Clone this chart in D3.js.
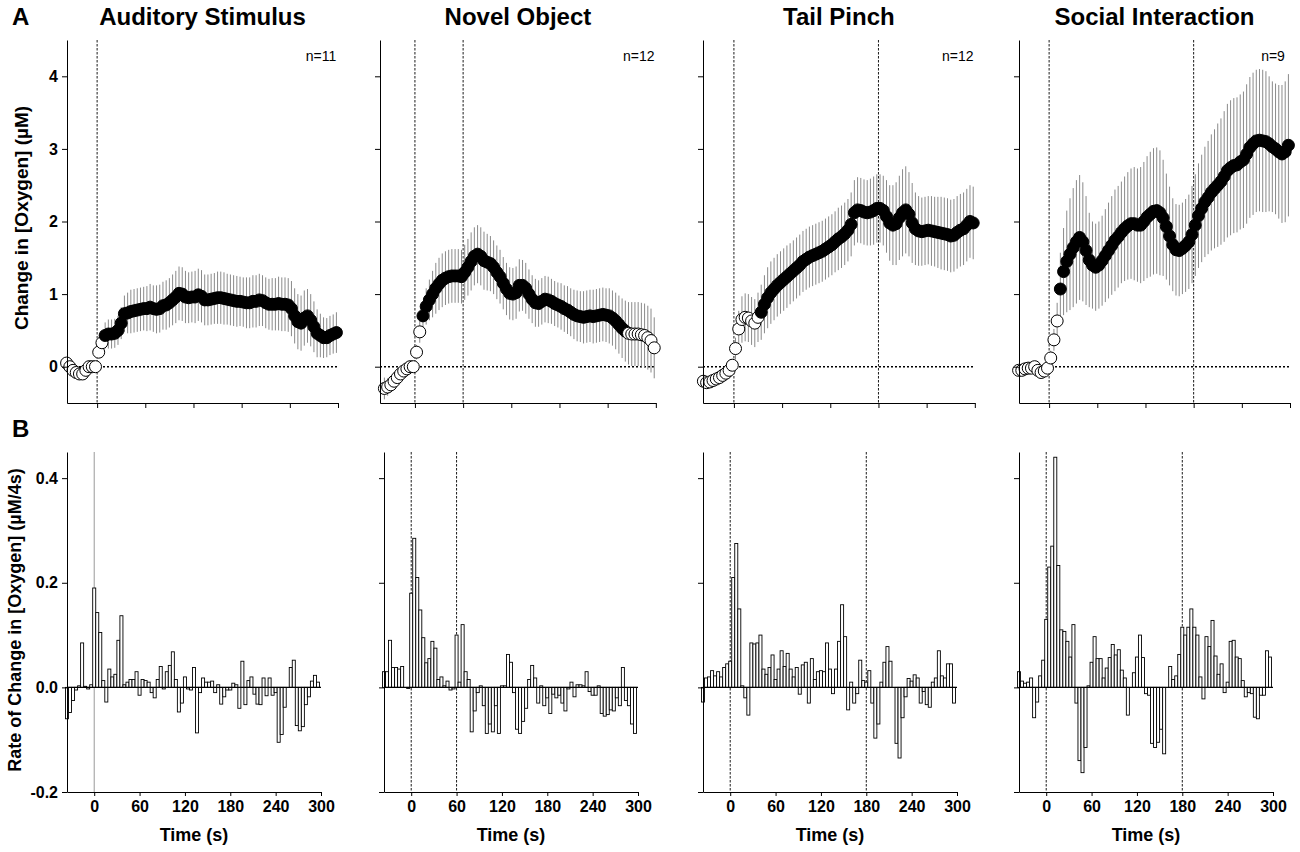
<!DOCTYPE html>
<html><head><meta charset="utf-8">
<script src="https://cdn.jsdelivr.net/npm/d3@7"></script>
<style>body{margin:0;background:#fff}svg{display:block}text{font-family:"Liberation Sans",Arial,Helvetica,sans-serif}</style>
</head><body><svg id="c" width="1300" height="852"></svg>
<script>
// ---------- DATA ----------
const panelTitles = ["Auditory Stimulus","Novel Object","Tail Pinch","Social Interaction"];
const nLabels = ["n=11","n=12","n=12","n=9"];
const markerTimes = [[0],[0,60],[0,180],[0,180]];
// time window (s) in which the mean points are filled (significant)
const sigWindows = [[10,298],[10,262],[34,298],[14,298]];
const sampleStart = -38, sampleStep = 4;   // mean samples every 4 s
const binStart = -36, binStep = 4;         // rate bins every 4 s
const yTicksTop = [0,1,2,3,4];
const yTicksBot = [-0.2,0,0.2,0.4];
const xTicks = [0,60,120,180,240,300];

const audMean = [0.05,0.0,-0.05,-0.08,-0.1,-0.1,-0.05,0.0,0.0,0.0,
 0.2,0.33,0.43,0.45,0.45,0.46,0.5,0.6,0.73,0.74,
 0.76,0.77,0.78,0.79,0.8,0.8,0.82,0.8,0.79,0.8,
 0.84,0.85,0.88,0.92,0.96,1.01,1.0,0.96,0.95,0.96,
 0.96,0.99,0.97,0.92,0.92,0.93,0.94,0.95,0.95,0.94,
 0.93,0.92,0.91,0.9,0.9,0.89,0.88,0.88,0.9,0.9,
 0.92,0.91,0.88,0.86,0.86,0.86,0.87,0.86,0.86,0.85,
 0.8,0.7,0.62,0.6,0.67,0.7,0.64,0.55,0.46,0.43,
 0.4,0.4,0.43,0.45,0.47];
const audErr = [0.04,0.04,0.04,0.04,0.04,0.04,0.04,0.04,0.04,0.05,
 0.08,0.1,0.18,0.2,0.2,0.2,0.2,0.22,0.25,0.28,
 0.3,0.3,0.3,0.3,0.3,0.31,0.32,0.32,0.33,0.33,
 0.33,0.34,0.34,0.35,0.36,0.37,0.37,0.36,0.35,0.35,
 0.36,0.36,0.36,0.35,0.35,0.35,0.35,0.36,0.36,0.36,
 0.35,0.35,0.35,0.35,0.34,0.34,0.35,0.35,0.36,0.36,
 0.36,0.35,0.35,0.35,0.36,0.36,0.37,0.37,0.37,0.37,
 0.38,0.38,0.38,0.38,0.38,0.37,0.36,0.35,0.33,0.3,
 0.28,0.27,0.27,0.27,0.28];

const novMean = [-0.3,-0.28,-0.25,-0.2,-0.15,-0.1,-0.06,-0.03,0.0,0.0,
 0.2,0.48,0.7,0.83,0.92,1.0,1.08,1.14,1.19,1.22,
 1.24,1.25,1.25,1.25,1.24,1.3,1.37,1.45,1.52,1.55,
 1.52,1.46,1.44,1.42,1.37,1.3,1.24,1.15,1.07,1.01,
 1.0,1.02,1.12,1.12,1.08,1.0,0.93,0.88,0.87,0.9,
 0.93,0.92,0.9,0.87,0.85,0.83,0.8,0.78,0.75,0.72,
 0.7,0.69,0.68,0.69,0.7,0.69,0.7,0.71,0.72,0.71,
 0.7,0.67,0.63,0.58,0.53,0.49,0.46,0.45,0.45,0.45,
 0.44,0.43,0.4,0.36,0.26];
const novErr = [0.15,0.12,0.1,0.08,0.06,0.05,0.04,0.03,0.03,0.03,
 0.1,0.15,0.2,0.25,0.28,0.32,0.35,0.36,0.37,0.37,
 0.37,0.37,0.37,0.37,0.37,0.38,0.39,0.4,0.4,0.4,
 0.4,0.4,0.39,0.38,0.37,0.37,0.37,0.36,0.36,0.36,
 0.36,0.36,0.36,0.35,0.35,0.34,0.33,0.33,0.32,0.32,
 0.32,0.32,0.31,0.31,0.31,0.32,0.32,0.33,0.33,0.34,
 0.35,0.35,0.36,0.36,0.36,0.37,0.37,0.37,0.37,0.37,
 0.38,0.38,0.39,0.4,0.41,0.42,0.43,0.44,0.44,0.44,
 0.44,0.44,0.44,0.44,0.42];

const tailMean = [-0.2,-0.22,-0.21,-0.19,-0.17,-0.15,-0.12,-0.09,-0.05,0.02,
 0.25,0.52,0.65,0.68,0.67,0.63,0.6,0.68,0.75,0.86,
 0.95,1.02,1.07,1.12,1.16,1.2,1.24,1.28,1.32,1.36,
 1.4,1.45,1.48,1.51,1.53,1.55,1.57,1.59,1.62,1.65,
 1.68,1.72,1.76,1.79,1.83,1.88,1.96,2.12,2.16,2.15,
 2.13,2.12,2.13,2.15,2.18,2.18,2.15,2.07,1.98,1.95,
 1.97,2.05,2.12,2.16,2.1,1.98,1.9,1.87,1.86,1.87,
 1.88,1.87,1.86,1.85,1.84,1.83,1.82,1.8,1.81,1.85,
 1.88,1.9,1.95,2.0,1.98];
const tailErr = [0.04,0.04,0.04,0.04,0.04,0.04,0.04,0.04,0.05,0.08,
 0.15,0.25,0.32,0.33,0.33,0.33,0.33,0.34,0.38,0.4,
 0.42,0.43,0.43,0.43,0.43,0.43,0.43,0.42,0.42,0.42,
 0.42,0.42,0.42,0.42,0.42,0.42,0.42,0.42,0.42,0.42,
 0.42,0.42,0.43,0.43,0.43,0.43,0.44,0.45,0.45,0.45,
 0.45,0.45,0.46,0.47,0.47,0.47,0.48,0.5,0.52,0.55,
 0.57,0.58,0.6,0.6,0.58,0.55,0.5,0.48,0.47,0.47,
 0.47,0.48,0.48,0.49,0.5,0.5,0.5,0.5,0.5,0.5,
 0.5,0.5,0.5,0.5,0.5];

const socMean = [-0.05,-0.05,-0.03,-0.02,-0.02,0.0,-0.05,-0.08,-0.06,-0.02,
 0.12,0.37,0.63,1.07,1.31,1.45,1.55,1.64,1.72,1.78,
 1.72,1.6,1.47,1.4,1.37,1.4,1.46,1.53,1.6,1.67,
 1.74,1.79,1.85,1.9,1.94,1.97,1.97,1.95,1.95,2.0,
 2.06,2.1,2.14,2.15,2.12,2.05,1.93,1.8,1.68,1.61,
 1.6,1.63,1.67,1.72,1.82,1.95,2.08,2.18,2.27,2.33,
 2.4,2.45,2.5,2.55,2.62,2.7,2.74,2.77,2.78,2.82,
 2.85,2.93,3.02,3.07,3.11,3.12,3.11,3.1,3.07,3.03,
 3.0,2.96,2.93,2.96,3.05];
const socErr = [0.04,0.04,0.04,0.04,0.04,0.04,0.04,0.04,0.04,0.05,
 0.1,0.15,0.25,0.5,0.6,0.7,0.77,0.82,0.85,0.86,
 0.82,0.75,0.65,0.6,0.6,0.6,0.62,0.64,0.66,0.68,
 0.7,0.7,0.7,0.72,0.74,0.76,0.78,0.78,0.8,0.82,
 0.84,0.86,0.87,0.87,0.86,0.8,0.73,0.68,0.64,0.63,
 0.63,0.63,0.64,0.65,0.67,0.7,0.72,0.74,0.76,0.78,
 0.8,0.82,0.85,0.87,0.9,0.92,0.93,0.93,0.93,0.93,
 0.94,0.96,0.97,0.98,0.98,0.98,0.98,0.97,0.93,0.9,
 0.9,0.92,0.95,0.97,0.98];

const audRate = [-0.06,-0.048,-0.025,-0.005,0.003,0.085,0.002,-0.003,0.005,
 0.19,0.143,0.105,0.013,-0.028,0.035,0.02,0.025,0.09,0.137,
 0.005,0.01,0.015,0.015,0.03,-0.015,0.015,0.013,0.01,-0.01,
 -0.02,0.015,0.04,-0.003,0.03,0.042,0.068,0.015,-0.047,-0.03,
 0.02,-0.003,-0.005,0.038,-0.087,-0.01,0.018,0.01,0.01,0.012,
 -0.01,0.005,-0.032,-0.018,-0.005,-0.005,0.008,0.005,-0.04,0.05,
 -0.033,0.013,0.02,-0.013,-0.032,-0.033,0.018,-0.016,0.018,-0.015,
 -0.01,-0.105,-0.09,-0.038,0.0,0.038,0.052,-0.073,-0.083,-0.075,
 -0.033,-0.018,0.012,0.023,0.01];
const novRate = [0.03,0.03,0.09,0.038,0.038,0.035,0.04,0.0,-0.002,
 0.18,0.285,0.21,0.148,0.095,0.047,0.055,0.088,0.075,0.015,
 0.02,0.003,0.012,-0.005,-0.003,0.1,0.01,0.12,0.03,0.015,
 -0.085,-0.045,-0.01,0.003,-0.035,-0.088,-0.07,-0.085,-0.035,-0.088,
 0.003,0.003,0.063,0.048,-0.01,-0.08,-0.088,-0.065,-0.04,0.015,
 0.042,0.018,-0.03,0.003,-0.035,-0.02,-0.05,-0.013,-0.02,-0.015,-0.03,
 -0.045,-0.003,0.01,-0.018,0.005,0.005,0.003,0.03,-0.008,-0.015,
 -0.015,0.003,-0.05,-0.055,-0.052,-0.043,-0.045,-0.02,-0.035,0.038,
 -0.025,-0.035,-0.07,-0.088];
const tailRate = [-0.028,0.018,0.02,0.032,0.022,0.03,0.02,0.038,0.045,
 0.05,0.21,0.275,0.15,0.003,-0.02,-0.053,0.085,0.083,0.085,
 0.1,0.035,0.025,0.038,0.062,0.015,0.035,0.07,0.04,0.065,
 0.035,0.02,0.038,-0.013,0.043,0.048,-0.03,0.055,0.015,0.03,
 0.032,0.03,0.085,0.035,-0.012,0.035,0.088,0.158,0.097,-0.043,
 0.01,-0.03,-0.012,0.052,0.013,0.01,0.032,-0.03,-0.097,-0.07,
 0.01,0.048,0.078,0.05,0.0,-0.107,-0.135,-0.058,-0.018,0.017,
 0.012,0.024,0.018,-0.03,-0.008,-0.033,-0.038,0.01,0.018,0.07,
 0.022,0.018,0.045,0.045,-0.03];
const socRate = [0.03,0.012,0.008,0.01,0.018,-0.058,-0.028,0.022,0.052,
 0.13,0.23,0.27,0.44,0.233,0.11,0.107,0.088,0.058,0.12,
 -0.03,-0.14,-0.163,-0.115,0.003,0.048,0.097,0.055,0.055,0.018,
 0.037,0.057,0.082,0.062,0.072,0.033,0.018,-0.053,0.0,0.028,
 0.058,0.1,0.057,-0.012,-0.015,-0.107,-0.115,-0.105,-0.08,-0.127,
 0.0,0.04,0.015,0.022,0.063,0.115,0.1,0.115,0.15,0.115,
 0.1,0.02,-0.022,0.097,0.078,0.128,0.06,0.025,0.045,-0.01,
 0.01,0.088,0.09,0.058,0.055,0.013,-0.018,-0.01,-0.012,-0.057,
 -0.06,-0.015,-0.015,0.07,0.058];

const means = [audMean, novMean, tailMean, socMean];
const errs = [audErr, novErr, tailErr, socErr];
const rates = [audRate, novRate, tailRate, socRate];

// ---------- LAYOUT ----------
const topLeft = [67, 380, 703, 1019];
const topMin = [-37.5, -43.5, -38.5, -37.5];
const pxPerSecTop = 0.803;
const botLeft = [67, 384, 703, 1019];
const botWidth = 254;
const FONT = '"Liberation Sans",Arial,Helvetica,sans-serif';

const svg = d3.select("#c");
const yT = d3.scaleLinear([-0.5, 4.5], [403, 40]);
const yB = d3.scaleLinear([-0.2, 0.45], [792, 452]);

function styleAxis(sel, fs) {
  sel.select(".domain").attr("stroke", "#000").attr("stroke-width", 1);
  sel.selectAll(".tick line").attr("stroke", "#000").attr("stroke-width", 1);
  sel.selectAll(".tick text").attr("fill", "#000").style("font-family", FONT)
     .style("font-size", fs + "px").style("font-weight", "bold");
}

for (let p = 0; p < 4; p++) {
  // ===== top panel =====
  const xT = d3.scaleLinear([topMin[p], 300], [topLeft[p], topLeft[p] + (300 - topMin[p]) * pxPerSecTop]);
  const g = svg.append("g");
  markerTimes[p].forEach(t => {
    g.append("line").attr("x1", xT(t)).attr("x2", xT(t)).attr("y1", yT(4.5)).attr("y2", yT(-0.5))
      .attr("stroke", "#000").attr("stroke-width", 0.9).attr("stroke-dasharray", "2.5,1.5");
  });
  g.append("line").attr("x1", xT(topMin[p])).attr("x2", xT(300)).attr("y1", yT(0)).attr("y2", yT(0))
    .attr("stroke", "#000").attr("stroke-width", 1.4).attr("stroke-dasharray", "2,2");

  const pts = means[p].map((m, i) => ({ t: sampleStart + sampleStep * i, m, e: errs[p][i] }));
  g.append("g").selectAll("line").data(pts).join("line")
    .attr("x1", d => xT(d.t)).attr("x2", d => xT(d.t))
    .attr("y1", d => yT(d.m + d.e)).attr("y2", d => yT(d.m - d.e))
    .attr("stroke", "#8a8a8a").attr("stroke-width", 1);
  const sw = sigWindows[p];
  g.append("g").selectAll("circle").data(pts).join("circle")
    .attr("cx", d => xT(d.t)).attr("cy", d => yT(d.m)).attr("r", 6)
    .attr("fill", d => (d.t >= sw[0] && d.t <= sw[1]) ? "#000" : "#fff")
    .attr("stroke", "#000").attr("stroke-width", 1);

  const ay = g.append("g").attr("transform", `translate(${topLeft[p]},0)`)
    .call(d3.axisLeft(yT).tickValues(yTicksTop).tickSize(5).tickSizeOuter(0).tickPadding(4)
      .tickFormat(p === 0 ? d => String(d) : () => ""));
  styleAxis(ay, 16);
  const ax = g.append("g").attr("transform", `translate(0,${yT(-0.5)})`)
    .call(d3.axisBottom(xT).tickValues(xTicks).tickSize(5).tickSizeOuter(0).tickFormat(() => ""));
  styleAxis(ax, 16);

  const cx = (xT(topMin[p]) + xT(300)) / 2;
  svg.append("text").attr("x", cx).attr("y", 25).attr("text-anchor", "middle")
    .style("font-size", "24px").style("font-weight", "bold").text(panelTitles[p]);
  svg.append("text").attr("x", xT(300) - 17).attr("y", 61).attr("text-anchor", "middle")
    .style("font-size", "14px").text(nLabels[p]);

  // ===== bottom panel =====
  const xB = d3.scaleLinear([binStart, 300], [botLeft[p], botLeft[p] + botWidth]);
  const gb = svg.append("g");
  markerTimes[p].forEach(t => {
    const l = gb.append("line").attr("x1", xB(t)).attr("x2", xB(t)).attr("y1", yB(0.45)).attr("y2", yB(-0.2));
    if (p === 0) l.attr("stroke", "#9a9a9a").attr("stroke-width", 1);
    else l.attr("stroke", "#000").attr("stroke-width", 0.9).attr("stroke-dasharray", "2.5,1.5");
  });
  const bars = rates[p].map((v, i) => ({ t: binStart + binStep * i, v }));
  gb.append("g").selectAll("rect").data(bars).join("rect")
    .attr("x", d => xB(d.t - binStep / 2))
    .attr("width", d => xB(d.t + binStep / 2) - xB(d.t - binStep / 2))
    .attr("y", d => yB(Math.max(0, d.v)))
    .attr("height", d => Math.abs(yB(d.v) - yB(0)))
    .attr("fill", "#fff").attr("stroke", "#000").attr("stroke-width", 0.9);
  gb.append("line").attr("x1", xB(binStart)).attr("x2", xB(300)).attr("y1", yB(0)).attr("y2", yB(0))
    .attr("stroke", "#000").attr("stroke-width", 1.2);

  const by = gb.append("g").attr("transform", `translate(${botLeft[p]},0)`)
    .call(d3.axisLeft(yB).tickValues(yTicksBot).tickSize(5).tickSizeOuter(0).tickPadding(4)
      .tickFormat(p === 0 ? d => d.toFixed(1) : () => ""));
  styleAxis(by, 16);
  const bx = gb.append("g").attr("transform", `translate(0,${yB(-0.2)})`)
    .call(d3.axisBottom(xB).tickValues(xTicks).tickSize(4).tickSizeOuter(0).tickPadding(5)
      .tickFormat(d => String(d)));
  styleAxis(bx, 16);
  svg.append("text").attr("x", (xB(binStart) + xB(300)) / 2).attr("y", 841).attr("text-anchor", "middle")
    .style("font-size", "18px").style("font-weight", "bold").text("Time (s)");
}

// panel letters & y-axis titles
svg.append("text").attr("x", 12).attr("y", 25).style("font-size", "24px").style("font-weight", "bold").text("A");
svg.append("text").attr("x", 12).attr("y", 437).style("font-size", "24px").style("font-weight", "bold").text("B");
svg.append("text").attr("transform", "translate(21,218) rotate(-90)").attr("text-anchor", "middle")
  .attr("dominant-baseline", "central").style("font-size", "19px").style("font-weight", "bold")
  .text("Change in [Oxygen] (µM)");
svg.append("text").attr("transform", "translate(15,620) rotate(-90)").attr("text-anchor", "middle")
  .attr("dominant-baseline", "central").style("font-size", "18px").style("font-weight", "bold")
  .text("Rate of Change in [Oxygen] (µM/4s)");
</script></body></html>
